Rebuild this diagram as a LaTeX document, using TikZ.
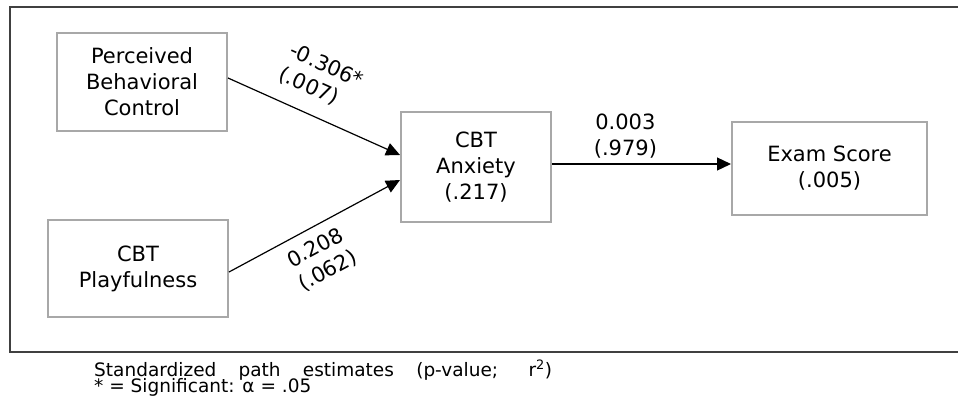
\documentclass[tikz,border=0pt]{standalone}
\usepackage{fontspec}
\setmainfont{DejaVu Sans}
\usetikzlibrary{arrows.meta,calc}
\definecolor{boxgray}{HTML}{A8A8A8}
\definecolor{framegray}{HTML}{404040}
\newcommand{\mainsz}{\fontsize{21}{26}\selectfont}
\newcommand{\notesz}{\fontsize{18.5}{16}\selectfont}
\begin{document}
\begin{tikzpicture}[x=1pt,y=-1pt,
  box/.style={draw=boxgray, line width=2pt, fill=white, inner sep=0pt, align=center, font=\mainsz},
  conn/.style={draw=black, line width=1.2pt, -{Triangle[length=14pt,width=13pt]}},
  lbl/.style={font=\mainsz, inner sep=0pt},
  note/.style={anchor=base west, inner sep=0pt, font=\notesz}]
\useasboundingbox (0,0) rectangle (958,405);
% frame (open at right)
\draw[framegray, line width=1.5pt] (958,7) -- (10,7) -- (10,352) -- (958,352);
% boxes
\node[box, minimum width=170pt, minimum height=98pt] (pbc) at (142,82) {Perceived\\Behavioral\\Control};
\node[box, minimum width=180pt, minimum height=97pt] (play) at (138,268.5) {CBT\\Playfulness};
\node[box, minimum width=150pt, minimum height=110pt] (anx) at (476,167) {CBT\\Anxiety\\(.217)};
\node[box, minimum width=195pt, minimum height=93pt] (exam) at (829.5,168.5) {Exam Score\\(.005)};
% connectors
\draw[conn] ($(pbc.east)+(0,-4)$) -- node[lbl, sloped, pos=0.45, anchor=south, outer sep=16pt, align=left] {-0.306*\\(.007)} ($(anx.west)+(0,-12)$);
\draw[conn] ($(play.east)+(0,3.5)$) -- node[lbl, sloped, pos=0.45, anchor=north, outer sep=11pt, align=center] {0.208\\(.062)} ($(anx.west)+(0,13)$);
\draw[conn] ($(anx.east)+(0,-3)$) -- node[lbl, pos=0.41, anchor=south, outer sep=5.5pt, align=center] {0.003\\(.979)} ($(exam.west)+(0,-4.5)$);
% footnote
\node[note] (note1) at (94,376) {\makebox[458pt][s]{Standardized path estimates (p-value; r\textsuperscript{2})}};
\node[note] (note2) at (94,392.5) {* = Significant: α = .05};
\end{tikzpicture}
\end{document}
